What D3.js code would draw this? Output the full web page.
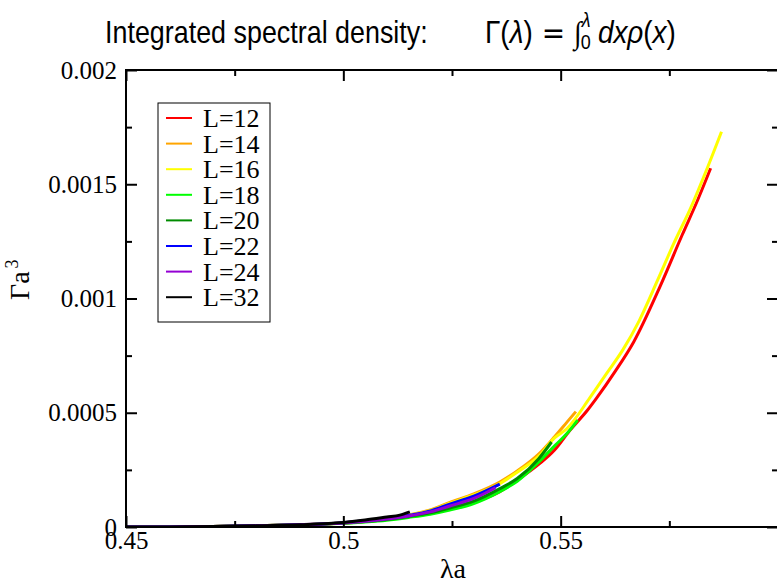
<!DOCTYPE html>
<html>
<head>
<meta charset="utf-8">
<script src="https://cdn.jsdelivr.net/npm/d3@7"></script>
<style>
  html, body { margin: 0; padding: 0; background: #fff; }
  svg { display: block; }
</style>
</head>
<body>
<svg id="chart" width="777" height="585"></svg>
<script>
// ---------------- data ----------------
const seriesLabels = ["L=12", "L=14", "L=16", "L=18", "L=20", "L=22", "L=24", "L=32"];
const seriesColors = ["#ff0000", "#ffa500", "#ffff00", "#00ff00", "#008b00", "#0000ff", "#9400d3", "#000000"];

const xTickValues = [0.45, 0.5, 0.55];
const xMinorValues = [0.475, 0.525, 0.575];
const yTickValues = [0, 0.0005, 0.001, 0.0015, 0.002];
const yMinorValues = [0.00025, 0.00075, 0.00125, 0.00175];

// [lambda*a, Gamma*a^3]
const L12 = [[0.45,0],[0.46,0.0000005],[0.47,0.000002],[0.48,0.000005],[0.49,0.00001],[0.50,0.000017],[0.505,0.000024],[0.51,0.000033],[0.515,0.000045],[0.52,0.000061],[0.5245,0.00008],[0.53,0.000108],[0.536,0.000155],[0.54,0.000205],[0.545,0.000275],[0.5486,0.000337],[0.552,0.00042],[0.5562,0.000512],[0.5583,0.000565],[0.5625,0.00068],[0.5668,0.00081],[0.5728,0.00105],[0.578,0.00128],[0.5815,0.00143],[0.5845,0.00157]];
const L14 = [[0.45,0],[0.46,0.0000005],[0.47,0.000002],[0.48,0.000005],[0.49,0.00001],[0.50,0.000019],[0.505,0.000027],[0.51,0.000038],[0.515,0.000053],[0.52,0.000075],[0.5245,0.000108],[0.53,0.000145],[0.536,0.000197],[0.54,0.000245],[0.545,0.00032],[0.5486,0.000395],[0.5515,0.00046],[0.5535,0.000505]];
const L16 = [[0.45,0],[0.46,0.0000005],[0.47,0.000002],[0.48,0.000005],[0.49,0.00001],[0.50,0.000018],[0.505,0.000026],[0.51,0.000037],[0.515,0.000051],[0.52,0.000072],[0.5245,0.000104],[0.53,0.00014],[0.536,0.00019],[0.54,0.00024],[0.545,0.00031],[0.5486,0.00039],[0.5514,0.00043],[0.5567,0.000565],[0.5605,0.00067],[0.5643,0.000775],[0.568,0.0009],[0.5723,0.00108],[0.576,0.00124],[0.58,0.0014],[0.5835,0.00156],[0.587,0.00173]];
const L18 = [[0.45,0],[0.46,0.0000005],[0.47,0.000002],[0.48,0.000005],[0.49,0.00001],[0.50,0.000016],[0.505,0.000022],[0.51,0.00003],[0.515,0.000042],[0.52,0.000056],[0.5245,0.000074],[0.53,0.000103],[0.536,0.000155],[0.54,0.0002],[0.545,0.000285],[0.5486,0.000355],[0.5515,0.00041],[0.5539,0.000468]];
const L20 = [[0.45,0],[0.46,0.0000005],[0.47,0.000002],[0.48,0.000005],[0.49,0.00001],[0.50,0.000017],[0.505,0.000024],[0.51,0.000033],[0.515,0.000046],[0.52,0.000062],[0.5245,0.000083],[0.53,0.000113],[0.536,0.000168],[0.54,0.000212],[0.545,0.0003],[0.5479,0.000372]];
const L22 = [[0.45,0],[0.46,0.0000005],[0.47,0.000002],[0.48,0.000005],[0.49,0.00001],[0.50,0.000019],[0.505,0.000027],[0.51,0.000037],[0.515,0.00005],[0.52,0.00007],[0.5245,0.0001],[0.53,0.000135],[0.536,0.000188]];
const L24 = [[0.45,0],[0.46,0.0000005],[0.47,0.000002],[0.48,0.000005],[0.49,0.00001],[0.50,0.000018],[0.505,0.000025],[0.51,0.000035],[0.515,0.000048],[0.52,0.000066],[0.5245,0.000092],[0.53,0.000125],[0.535,0.000172]];
const L32 = [[0.45,0],[0.46,0.0000005],[0.47,0.000002],[0.48,0.000005],[0.49,0.00001],[0.50,0.00002],[0.505,0.000031],[0.51,0.000044],[0.513,0.000052],[0.5153,0.000066]];

const seriesData = [L12, L14, L16, L18, L20, L22, L24, L32];

// ---------------- layout ----------------
const svg = d3.select("#chart");
const x = d3.scaleLinear().domain([0.45, 0.6]).range([126, 778]);
const y = d3.scaleLinear().domain([0, 0.002]).range([527, 70]);
const serif = "'Liberation Serif', 'Times New Roman', serif";
const sans = "'Liberation Sans', Arial, Helvetica, sans-serif";
const fmt = d => String(+d.toFixed(5));

svg.append("clipPath").attr("id", "plotclip")
  .append("rect").attr("x", x.range()[0]).attr("y", y.range()[1])
  .attr("width", x.range()[1] - x.range()[0]).attr("height", y.range()[0] - y.range()[1]);

const line = d3.line().x(d => x(d[0])).y(d => y(d[1])).curve(d3.curveMonotoneX);
svg.append("g").attr("clip-path", "url(#plotclip)")
  .selectAll("path").data(seriesData).join("path")
  .attr("d", d => line(d))
  .attr("fill", "none")
  .attr("stroke", (d, i) => seriesColors[i])
  .attr("stroke-width", 3)
  .attr("stroke-linejoin", "round");

function styleAxis(g) {
  g.select(".domain").remove();
  g.selectAll(".tick line").attr("stroke", "#000").attr("stroke-width", 2);
  g.selectAll(".tick text").attr("font-family", serif).attr("font-size", 25).attr("fill", "#000");
}
const x0 = y.range()[0], yTop = y.range()[1], xL = x.range()[0], xR = x.range()[1];

svg.append("g").attr("transform", `translate(0,${x0})`)
  .call(d3.axisBottom(x).tickValues(xTickValues).tickSize(-11).tickSizeOuter(0).tickPadding(4).tickFormat(fmt))
  .call(styleAxis);
svg.append("g").attr("transform", `translate(0,${x0})`)
  .call(d3.axisBottom(x).tickValues(xMinorValues).tickSize(-6).tickSizeOuter(0).tickFormat(""))
  .call(styleAxis);
svg.append("g").attr("transform", `translate(0,${yTop})`)
  .call(d3.axisTop(x).tickValues(xTickValues).tickSize(-11).tickSizeOuter(0).tickFormat(""))
  .call(styleAxis);
svg.append("g").attr("transform", `translate(0,${yTop})`)
  .call(d3.axisTop(x).tickValues(xMinorValues).tickSize(-6).tickSizeOuter(0).tickFormat(""))
  .call(styleAxis);

svg.append("g").attr("transform", `translate(${xL},0)`)
  .call(d3.axisLeft(y).tickValues(yTickValues).tickSize(-11).tickSizeOuter(0).tickPadding(9).tickFormat(fmt))
  .call(styleAxis);
svg.append("g").attr("transform", `translate(${xL},0)`)
  .call(d3.axisLeft(y).tickValues(yMinorValues).tickSize(-6).tickSizeOuter(0).tickFormat(""))
  .call(styleAxis);
svg.append("g").attr("transform", `translate(${xR},0)`)
  .call(d3.axisRight(y).tickValues(yTickValues).tickSize(-11).tickSizeOuter(0).tickFormat(""))
  .call(styleAxis);
svg.append("g").attr("transform", `translate(${xR},0)`)
  .call(d3.axisRight(y).tickValues(yMinorValues).tickSize(-6).tickSizeOuter(0).tickFormat(""))
  .call(styleAxis);

svg.append("rect").attr("x", xL).attr("y", yTop).attr("width", xR - xL).attr("height", x0 - yTop)
  .attr("fill", "none").attr("stroke", "#000").attr("stroke-width", 2);

// axis titles
svg.append("text").attr("x", 453).attr("y", 578).attr("text-anchor", "middle")
  .attr("font-family", serif).attr("font-size", 28).text("λa");

const yt = svg.append("text").attr("transform", "translate(29,300) rotate(-90)")
  .attr("font-family", serif).attr("font-size", 28);
yt.append("tspan").text("Γa");
yt.append("tspan").attr("font-size", 18).attr("dy", -11).attr("dx", 3).text("3");

// title
svg.append("text").attr("transform", "translate(105,43) scale(0.84,1)")
  .attr("font-family", sans).attr("font-size", 32).text("Integrated spectral density:");

const ft = svg.append("text").attr("transform", "translate(485,43) scale(0.9,1)")
  .attr("font-family", sans).attr("font-size", 31);
ft.append("tspan").text("Γ(");
ft.append("tspan").attr("font-style", "italic").text("λ");
ft.append("tspan").text(")");
ft.append("tspan").attr("font-family", "'DejaVu Sans', sans-serif").attr("dx", 10).text("=");
ft.append("tspan").attr("font-family", serif).attr("dx", 10).text("∫");
ft.append("tspan").attr("font-size", 20).attr("dy", 6).attr("dx", -1).text("0");
ft.append("tspan").attr("font-size", 20).attr("font-style", "italic").attr("dy", -22).attr("dx", -10).text("λ");
ft.append("tspan").attr("font-style", "italic").attr("dy", 16).attr("dx", 8).text("dxρ");
ft.append("tspan").text("(");
ft.append("tspan").attr("font-style", "italic").text("x");
ft.append("tspan").text(")");

// legend
const lg = svg.append("g");
lg.append("rect").attr("x", 158).attr("y", 103).attr("width", 112).attr("height", 219)
  .attr("fill", "#fff").attr("stroke", "#000").attr("stroke-width", 1);
const items = lg.selectAll("g.item").data(seriesLabels).join("g").attr("class", "item")
  .attr("transform", (d, i) => `translate(0,${118 + i * 25.6})`);
items.append("line").attr("x1", 166).attr("x2", 192).attr("y1", 0).attr("y2", 0)
  .attr("stroke", (d, i) => seriesColors[i]).attr("stroke-width", 2);
items.append("text").attr("x", 203).attr("y", 9).attr("font-family", serif).attr("font-size", 26).text(d => d);
</script>
</body>
</html>
